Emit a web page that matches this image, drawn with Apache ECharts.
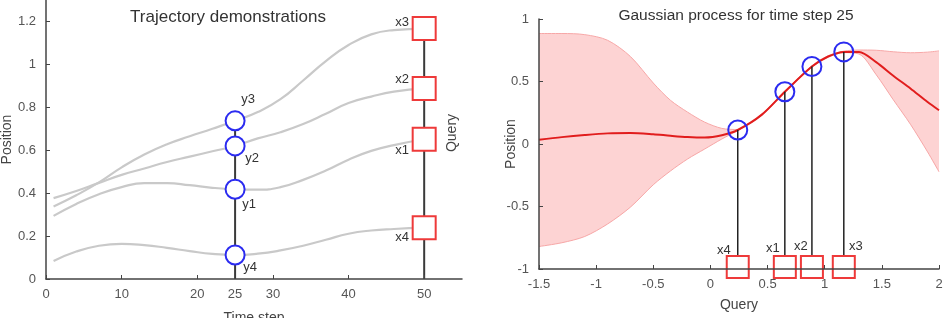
<!DOCTYPE html>
<html lang="en">
<head>
<meta charset="utf-8">
<title>Trajectory demonstrations / GP</title>
<script src="https://cdn.jsdelivr.net/npm/echarts@6/dist/echarts.min.js"></script>
<style>
  html, body { margin: 0; padding: 0; background: #fff; }
  #chart { width: 948px; height: 318px; }
</style>
</head>
<body>
<div id="chart"></div>
<script>
// ---- left panel: demonstrations over time ----
var timeSteps = [1, 4, 7, 10, 13, 16, 19, 22, 25, 28, 31, 34, 37, 40, 43, 46, 50];
var demo1 = [0.294, 0.35, 0.395, 0.428, 0.447, 0.447, 0.437, 0.425, 0.418, 0.416, 0.428, 0.462, 0.505, 0.556, 0.597, 0.624, 0.651];
var demo2 = [0.377, 0.41, 0.448, 0.485, 0.515, 0.545, 0.57, 0.595, 0.62, 0.655, 0.684, 0.722, 0.77, 0.82, 0.85, 0.873, 0.888];
var demo3 = [0.338, 0.39, 0.45, 0.52, 0.58, 0.628, 0.665, 0.7, 0.737, 0.778, 0.838, 0.925, 1.015, 1.09, 1.14, 1.16, 1.167];
var demo4 = [0.084, 0.128, 0.155, 0.164, 0.158, 0.145, 0.13, 0.117, 0.112, 0.118, 0.133, 0.155, 0.183, 0.211, 0.226, 0.233, 0.239];

var queryStep = 25;
var endStep = 50;
var yNames = ['y1', 'y2', 'y3', 'y4'];
var yVals = [0.418, 0.62, 0.737, 0.112];
var xNames = ['x1', 'x2', 'x3', 'x4'];
var xVals = [0.651, 0.888, 1.167, 0.239];

var leftXLabels = [0, 10, 20, 25, 30, 40, 50];
var leftXTicks = [0, 10, 20, 30, 40, 50];
var leftYTicks = [0, 0.2, 0.4, 0.6, 0.8, 1, 1.2];

// ---- right panel: GP at time step 25 ----
var gpX     = [-1.5, -1.3, -1.1, -0.9, -0.7, -0.5, -0.35, -0.2, -0.05, 0.1, 0.239, 0.45, 0.651, 0.888, 1.03, 1.167, 1.3, 1.45, 1.6, 1.75, 1.9, 2.0];
var gpMean  = [0.034, 0.055, 0.072, 0.085, 0.088, 0.078, 0.066, 0.056, 0.052, 0.07, 0.112, 0.235, 0.418, 0.62, 0.70, 0.737, 0.736, 0.655, 0.546, 0.444, 0.336, 0.27];
var gpUpper = [0.884, 0.884, 0.875, 0.83, 0.70, 0.488, 0.35, 0.255, 0.175, 0.125, 0.116, 0.241, 0.424, 0.626, 0.706, 0.743, 0.752, 0.75, 0.738, 0.73, 0.735, 0.745];
var gpLower = [-0.82, -0.79, -0.74, -0.64, -0.505, -0.326, -0.216, -0.12, -0.04, 0.04, 0.108, 0.229, 0.412, 0.614, 0.694, 0.731, 0.72, 0.555, 0.354, 0.158, -0.063, -0.222];

// label nudges (px) around the markers
var leftYOffset  = { y1: [14, 15], y2: [17, 12], y3: [13, -21], y4: [15, 12] };
var leftXOffset  = { x1: [-22, 11], x2: [-22, -9], x3: [-22, -6], x4: [-22, 10] };
var rightXOffset = { x1: [-12, -19], x2: [-11, -21], x3: [12, -21], x4: [-14, -17] };

var chart = echarts.init(document.getElementById('chart'));

var axisCol = '#444';
var tickTxt = { color: '#555', fontSize: 13, fontFamily: 'Liberation Sans, Arial, sans-serif' };

function pairs(xs, ys) {
    return xs.map(function (x, i) { return [x, ys[i]]; });
}

function demoSeries(vals) {
    return {
        type: 'line', xAxisIndex: 0, yAxisIndex: 0,
        data: pairs(timeSteps, vals),
        smooth: 0.5, showSymbol: false, silent: true, z: 2,
        lineStyle: { color: '#c9c9c9', width: 2.2 }
    };
}

// vertical stems from a base value to a point
function stemSeries(xi, yi, data, base, col, w, z) {
    return {
        type: 'custom', xAxisIndex: xi, yAxisIndex: yi, z: z, silent: true,
        data: data,
        renderItem: function (params, api) {
            var a = api.coord([api.value(0), api.value(1)]);
            var b = api.coord([api.value(0), base]);
            return {
                type: 'line',
                shape: { x1: a[0], y1: a[1], x2: b[0], y2: b[1] },
                style: { stroke: col, lineWidth: w }
            };
        }
    };
}

function axisBase(extra) {
    return Object.assign({
        type: 'value', z: 10,
        nameLocation: 'middle', nameMoveOverlap: false,
        nameTextStyle: { color: '#444', fontSize: 14 },
        axisLine: { onZero: false, lineStyle: { color: axisCol, width: 1.5 } },
        splitLine: { show: false }
    }, extra);
}

option = {
    animation: false,
    textStyle: { fontFamily: 'Liberation Sans, Arial, sans-serif' },
    grid: [
        { left: 46, top: 0, width: 416, height: 279, outerBoundsMode: 'none' },
        { left: 539, top: 19, width: 400, height: 250, outerBoundsMode: 'none' }
    ],
    xAxis: [
        axisBase({
            gridIndex: 0, min: 0, max: 55, name: 'Time step', nameGap: 32,
            axisTick: { inside: true, length: 4, customValues: leftXTicks, lineStyle: { color: axisCol } },
            axisLabel: Object.assign({ customValues: leftXLabels, margin: 9 }, tickTxt)
        }),
        axisBase({
            gridIndex: 1, min: -1.5, max: 2, interval: 0.5, name: 'Query', nameGap: 29,
            axisTick: { inside: true, length: 4, lineStyle: { color: axisCol } },
            axisLabel: Object.assign({ margin: 9 }, tickTxt)
        })
    ],
    yAxis: [
        axisBase({
            gridIndex: 0, min: 0, max: 1.3, name: 'Position', nameGap: 32,
            axisTick: { inside: true, length: 4, customValues: leftYTicks, lineStyle: { color: axisCol } },
            axisLabel: Object.assign({ customValues: leftYTicks, margin: 10 }, tickTxt)
        }),
        axisBase({
            gridIndex: 1, min: -1, max: 1, interval: 0.5, name: 'Position', nameGap: 21,
            axisTick: { inside: true, length: 4, lineStyle: { color: axisCol } },
            axisLabel: Object.assign({ margin: 10 }, tickTxt)
        })
    ],
    graphic: [
        { type: 'text', x: 228, y: 17, style: { text: 'Trajectory demonstrations', fill: '#333', font: '17px Liberation Sans', align: 'center', verticalAlign: 'middle' } },
        { type: 'text', x: 736, y: 16, style: { text: 'Gaussian process for time step 25', fill: '#333', font: '15.5px Liberation Sans', align: 'center', verticalAlign: 'middle' } },
        { type: 'text', x: 452, y: 133, rotation: Math.PI / 2, style: { text: 'Query', fill: '#444', font: '14px Liberation Sans', align: 'center', verticalAlign: 'middle' } }
    ],
    series: [
        demoSeries(demo1), demoSeries(demo2), demoSeries(demo3), demoSeries(demo4),
        stemSeries(0, 0, [[queryStep, Math.max.apply(null, yVals)], [endStep, Math.max.apply(null, xVals)]], 0, '#3a3a3a', 2, 3),
        {
            type: 'scatter', xAxisIndex: 0, yAxisIndex: 0, z: 5, silent: true,
            symbol: 'circle', symbolSize: 19,
            itemStyle: { color: '#fff', borderColor: '#2b2bf0', borderWidth: 2, opacity: 1 },
            data: yVals.map(function (v, i) {
                return { value: [queryStep, v], label: { show: true, formatter: yNames[i], position: 'inside', offset: leftYOffset[yNames[i]], color: '#333', fontSize: 13 } };
            })
        },
        {
            type: 'scatter', xAxisIndex: 0, yAxisIndex: 0, z: 5, silent: true,
            symbol: 'rect', symbolSize: 23,
            itemStyle: { color: '#fff', borderColor: '#ee3a3a', borderWidth: 2, opacity: 1 },
            data: xVals.map(function (v, i) {
                return { value: [endStep, v], label: { show: true, formatter: xNames[i], position: 'inside', offset: leftXOffset[xNames[i]], color: '#333', fontSize: 13 } };
            })
        },
        // GP band: pink fill under the upper bound, white fill under the lower bound
        {
            type: 'line', xAxisIndex: 1, yAxisIndex: 1, z: 1, silent: true,
            data: pairs(gpX, gpUpper), smooth: 0.3, showSymbol: false,
            lineStyle: { color: '#f7a7a7', width: 1 },
            areaStyle: { color: '#fdd3d3', opacity: 1, origin: 'start' }
        },
        {
            type: 'line', xAxisIndex: 1, yAxisIndex: 1, z: 1.5, silent: true,
            data: pairs(gpX, gpLower), smooth: 0.3, showSymbol: false,
            lineStyle: { color: '#f7a7a7', width: 1 },
            areaStyle: { color: '#fff', opacity: 1, origin: 'start' }
        },
        {
            type: 'line', xAxisIndex: 1, yAxisIndex: 1, z: 2, silent: true,
            data: pairs(gpX, gpMean), smooth: 0.3, showSymbol: false,
            lineStyle: { color: '#e11d1d', width: 2 }
        },
        stemSeries(1, 1, pairs(xVals, yVals), -1, '#222', 1.5, 3),
        {
            type: 'scatter', xAxisIndex: 1, yAxisIndex: 1, z: 5, silent: true,
            symbol: 'circle', symbolSize: 19,
            itemStyle: { color: 'rgba(0,0,0,0)', borderColor: '#2b2bf0', borderWidth: 2, opacity: 1 },
            data: pairs(xVals, yVals)
        },
        {
            type: 'scatter', xAxisIndex: 1, yAxisIndex: 1, z: 5, silent: true,
            symbol: 'rect', symbolSize: 22, symbolOffset: [0, -2],
            itemStyle: { color: '#fff', borderColor: '#ee3a3a', borderWidth: 2, opacity: 1 },
            data: xVals.map(function (v, i) {
                return { value: [v, -1], label: { show: true, formatter: xNames[i], position: 'inside', offset: rightXOffset[xNames[i]], color: '#333', fontSize: 13 } };
            })
        }
    ]
};

chart.setOption(option);
</script>
</body>
</html>
